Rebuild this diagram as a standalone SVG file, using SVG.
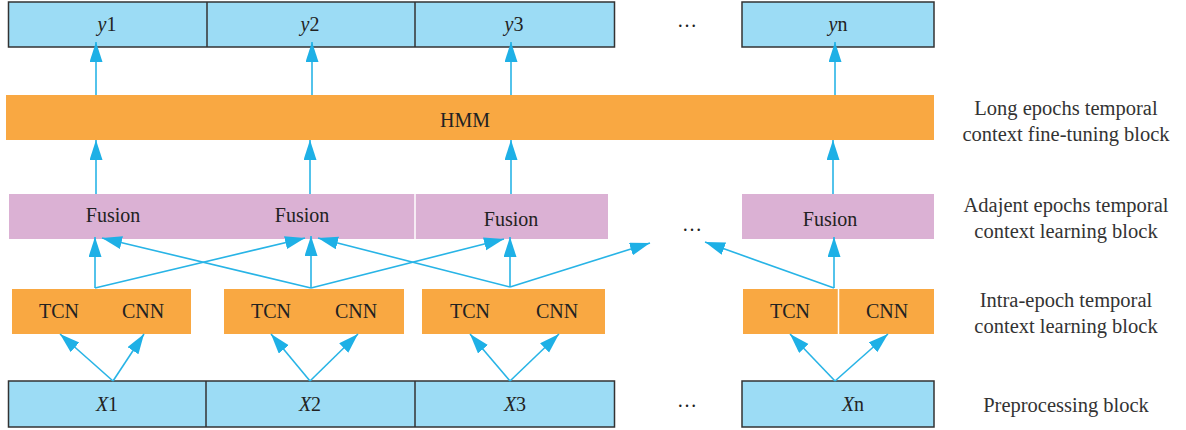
<svg xmlns="http://www.w3.org/2000/svg" width="1186" height="430" viewBox="0 0 1186 430">
<style>
.blue{fill:#9cdcf5;stroke:#333;stroke-width:1.5}
.org{fill:#f9a842}
.pink{fill:#dbb1d4}
.t{font-family:"Liberation Serif",serif;font-size:20px;fill:#222;text-anchor:middle;dominant-baseline:central}
.lab{font-family:"Liberation Serif",serif;font-size:20.5px;fill:#333;text-anchor:middle}
.c{stroke:#28b4e6;stroke-width:1.6;fill:none;marker-end:url(#ah)}
.sep{stroke:#fff;stroke-width:1.5}
</style>
<defs>
<marker id="ah" markerUnits="userSpaceOnUse" markerWidth="20" markerHeight="14" refX="20" refY="6.5" orient="auto">
<path d="M0,0 L20,6.5 L0,13 z" fill="#1eb0e6"/>
</marker>
</defs>
<g id="outputs">
<rect class="blue" x="8.5" y="2" width="606" height="45"/>
<line x1="207" y1="2" x2="207" y2="47" stroke="#333" stroke-width="1.5"/>
<line x1="415" y1="2" x2="415" y2="47" stroke="#333" stroke-width="1.5"/>
<text class="t" x="107" y="24"><tspan font-style="italic">y</tspan>1</text>
<text class="t" x="310" y="24"><tspan font-style="italic">y</tspan>2</text>
<text class="t" x="514" y="24"><tspan font-style="italic">y</tspan>3</text>
<text class="t" x="687" y="20">…</text>
<rect class="blue" x="742" y="2" width="192" height="45"/>
<text class="t" x="838" y="24"><tspan font-style="italic">y</tspan>n</text>
</g>
<g id="hmm">
<rect class="org" x="6" y="95" width="928" height="45"/>
<text class="t" x="465" y="120">HMM</text>
</g>
<g id="fusion">
<rect class="pink" x="9" y="194" width="406" height="45"/>
<rect class="pink" x="415" y="194" width="193" height="45"/>
<line class="sep" x1="415" y1="194" x2="415" y2="239"/>
<text class="t" x="113" y="215">Fusion</text>
<text class="t" x="302" y="215">Fusion</text>
<text class="t" x="511" y="219">Fusion</text>
<text class="t" x="692" y="224">…</text>
<rect class="pink" x="742" y="194" width="192" height="45"/>
<text class="t" x="830" y="219">Fusion</text>
</g>
<g id="tcncnn">
<rect class="org" x="12" y="289" width="179" height="45"/>
<text class="t" x="59" y="311">TCN</text>
<text class="t" x="143" y="311">CNN</text>
<rect class="org" x="224" y="289" width="180" height="45"/>
<text class="t" x="271" y="311">TCN</text>
<text class="t" x="356" y="311">CNN</text>
<rect class="org" x="422" y="289" width="183" height="45"/>
<text class="t" x="470" y="311">TCN</text>
<text class="t" x="557" y="311">CNN</text>
<rect class="org" x="743" y="289" width="191" height="45"/>
<line class="sep" x1="838.5" y1="289" x2="838.5" y2="334"/>
<text class="t" x="790" y="311">TCN</text>
<text class="t" x="887" y="311">CNN</text>
</g>
<g id="inputs">
<rect class="blue" x="8.5" y="381" width="606" height="46"/>
<line x1="206" y1="381" x2="206" y2="427" stroke="#333" stroke-width="1.5"/>
<line x1="415" y1="381" x2="415" y2="427" stroke="#333" stroke-width="1.5"/>
<text class="t" x="107" y="404"><tspan font-style="italic">X</tspan>1</text>
<text class="t" x="310" y="404"><tspan font-style="italic">X</tspan>2</text>
<text class="t" x="515" y="404"><tspan font-style="italic">X</tspan>3</text>
<text class="t" x="687" y="400">…</text>
<rect class="blue" x="742" y="381" width="192" height="46"/>
<text class="t" x="853" y="404"><tspan font-style="italic">X</tspan>n</text>
</g>
<g id="labels">
<text class="lab" x="1066" y="115">Long epochs temporal</text>
<text class="lab" x="1066" y="141">context fine-tuning block</text>
<text class="lab" x="1066" y="212">Adajent epochs temporal</text>
<text class="lab" x="1066" y="238">context learning block</text>
<text class="lab" x="1066" y="307">Intra-epoch temporal</text>
<text class="lab" x="1066" y="333">context learning block</text>
<text class="lab" x="1066" y="412">Preprocessing block</text>
</g>
<g id="connectors">
<line class="c" x1="96" y1="95" x2="96" y2="42"/>
<line class="c" x1="312" y1="95" x2="312" y2="42"/>
<line class="c" x1="511" y1="95" x2="511" y2="42"/>
<line class="c" x1="835" y1="95" x2="835" y2="42"/>
<line class="c" x1="96" y1="194" x2="96" y2="140"/>
<line class="c" x1="310" y1="194" x2="310" y2="140"/>
<line class="c" x1="511" y1="194" x2="511" y2="140"/>
<line class="c" x1="833" y1="194" x2="833" y2="140"/>
<line class="c" x1="95" y1="288" x2="95" y2="237"/>
<line class="c" x1="95" y1="288" x2="305" y2="238"/>
<line class="c" x1="311" y1="288" x2="311" y2="236"/>
<line class="c" x1="311" y1="288" x2="102" y2="238"/>
<line class="c" x1="311" y1="288" x2="504" y2="239"/>
<line class="c" x1="510" y1="287" x2="510" y2="237"/>
<line class="c" x1="510" y1="287" x2="318" y2="238"/>
<line class="c" x1="510" y1="287" x2="650" y2="243"/>
<line class="c" x1="834" y1="288" x2="834" y2="237"/>
<line class="c" x1="834" y1="288" x2="705" y2="242"/>
<line class="c" x1="113" y1="381" x2="60" y2="334"/>
<line class="c" x1="113" y1="381" x2="144" y2="334"/>
<line class="c" x1="310" y1="381" x2="271" y2="334"/>
<line class="c" x1="310" y1="381" x2="358" y2="334"/>
<line class="c" x1="510" y1="381" x2="470" y2="334"/>
<line class="c" x1="510" y1="381" x2="559" y2="334"/>
<line class="c" x1="835" y1="381" x2="790" y2="334"/>
<line class="c" x1="835" y1="381" x2="888" y2="334"/>
</g>
</svg>
